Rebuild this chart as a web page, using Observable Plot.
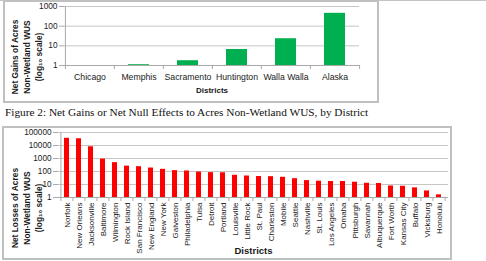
<!DOCTYPE html>
<html>
<head>
<meta charset="utf-8">
<script src="https://cdn.jsdelivr.net/npm/d3@7"></script>
<script src="https://cdn.jsdelivr.net/npm/@observablehq/plot@0.6"></script>
<style>
  html, body { margin: 0; padding: 0; background: #fff; }
  #page { position: relative; width: 486px; height: 261px; overflow: hidden; background: #fff; }
  .edge { position: absolute; left: 0; top: 0; width: 486px; height: 1px; background: #c4c4c4; }
  .box { position: absolute; border: 2px solid #c0c0c0; box-sizing: border-box; }
  .chart { position: absolute; left: 0; }
  .chart svg { display: block; overflow: visible; }
  #caption { position: absolute; left: 5px; top: 106px; font-family: "Liberation Serif", serif; font-size: 11.3px; color: #111; white-space: nowrap; }
</style>
</head>
<body>
<div id="page">
  <div class="edge"></div>
  <div class="box" style="left:3px; top:0px; width:376px; height:103px;"></div>
  <div id="gains" class="chart" style="top:0px;"></div>
  <div id="caption">Figure 2: Net Gains or Net Null Effects to Acres Non-Wetland WUS, by District</div>
  <div class="box" style="left:2px; top:126px; width:450px; height:134px;"></div>
  <div id="losses" class="chart" style="top:126px;"></div>
</div>
<script>
// Districts with net gains (or no net change) in acres of non-wetland WUS
const gainDistricts = ["Chicago", "Memphis", "Sacramento", "Huntington", "Walla Walla", "Alaska"];
const gainAcres = [0, 1.1, 1.75, 6.5, 23, 450];
const gainTicks = [1, 10, 100, 1000];

// Districts with net losses in acres of non-wetland WUS
const lossDistricts = ["Norfolk", "New Orleans", "Jacksonville", "Baltimore", "Wilmington", "Rock Island",
  "San Francisco", "New England", "New York", "Galveston", "Philadelphia", "Tulsa", "Detroit", "Portland",
  "Louisville", "Little Rock", "St. Paul", "Charleston", "Mobile", "Seattle", "Nashville", "St. Louis",
  "Los Angeles", "Omaha", "Pittsburgh", "Savannah", "Albuquerque", "Fort Worth", "Kansas City", "Buffalo",
  "Vicksburg", "Honolulu"];
const lossAcres = [36000, 33000, 8000, 900, 480, 260, 235, 185, 147, 117, 109, 91, 82, 80,
  51, 45, 41, 40, 36, 28, 20, 18, 17, 17, 15, 12.5, 12, 7.7, 7.3, 5.5, 3.2, 1.6];
const lossTicks = [1, 10, 100, 1000, 10000, 100000];

const font = "Liberation Sans, Arial, sans-serif";
const gridColor = "#c6c6c6";
const axisColor = "#a9a9a9";
const textColor = "#1a1a1a";

function districtChart({districts, acres, ticks, color, width, height, margins, tickFont, labelFont,
                        tickPadX, rotateX, title, titleDx, titleDy, labelDy, labelFontSize}) {
  const rows = districts.map((district, i) => ({district, acres: acres[i]}));
  const frameH = height - margins.top - margins.bottom;
  const frameW = width - margins.left - margins.right;
  const step = frameW / districts.length;
  const last = districts[districts.length - 1];
  return Plot.plot({
    width, height,
    marginLeft: margins.left, marginRight: margins.right,
    marginTop: margins.top, marginBottom: margins.bottom,
    style: {fontFamily: font, color: textColor, background: "transparent", overflow: "visible"},
    x: {domain: districts, paddingInner: 0.58, paddingOuter: 0.29, label: null},
    y: {type: "log", domain: [ticks[0], ticks[ticks.length - 1]], label: null},
    marks: [
      Plot.gridY(ticks, {stroke: gridColor, strokeOpacity: 1}),
      Plot.barY(rows, {x: "district", y1: () => ticks[0], y2: "acres", fill: color}),
      Plot.ruleY([ticks[0]], {stroke: axisColor}),
      // vertical axis line, then the category separators below the baseline
      Plot.ruleX([districts[0]], {x: d => d, dx: -step / 2, stroke: axisColor, insetBottom: -4}),
      Plot.ruleX(districts.slice(1), {x: d => d, dx: -step / 2, stroke: axisColor, insetTop: frameH, insetBottom: -4}),
      Plot.ruleX([last], {x: d => d, dx: step / 2, stroke: axisColor, insetTop: frameH, insetBottom: -4}),
      Plot.axisY({ticks, tickFormat: d => String(d), tickSize: 5, tickPadding: 2, stroke: axisColor,
        fill: textColor, fontSize: tickFont, label: null}),
      Plot.axisX({tickSize: 0, tickPadding: tickPadX, tickRotate: rotateX, fill: textColor,
        fontSize: labelFont, label: null}),
      Plot.text(["Districts"], {frameAnchor: "bottom", dy: labelDy, fontWeight: "bold",
        fontSize: labelFontSize, fill: textColor}),
      Plot.text([title], {frameAnchor: "left", textAnchor: "middle", rotate: -90, dx: titleDx, dy: titleDy,
        fontWeight: "bold", fontSize: 8.4, lineHeight: 1.45, fill: textColor})
    ]
  });
}

document.getElementById("gains").append(districtChart({
  districts: gainDistricts, acres: gainAcres, ticks: gainTicks, color: "#00b050",
  width: 378, height: 100, margins: {left: 64, right: 19, top: 6, bottom: 35},
  tickFont: 8.3, labelFont: 8.7, tickPadX: 8, rotateX: 0,
  title: "Net Gains of Acres\nNon-Wetland WUS\n(log\u2081\u2080 scale)",
  titleDx: -38.5, titleDy: 21, labelDy: 27, labelFontSize: 8
}));

document.getElementById("losses").append(districtChart({
  districts: lossDistricts, acres: lossAcres, ticks: lossTicks, color: "#ff0000",
  width: 450, height: 132, margins: {left: 58, right: 2, top: 6, bottom: 61},
  tickFont: 8.2, labelFont: 8, tickPadX: 5, rotateX: -90,
  title: "Net Losses of Acres\nNon-Wetland WUS\n(log\u2081\u2080 scale)",
  titleDx: -32.5, titleDy: 43, labelDy: 56, labelFontSize: 9.5
}));
</script>
</body>
</html>
